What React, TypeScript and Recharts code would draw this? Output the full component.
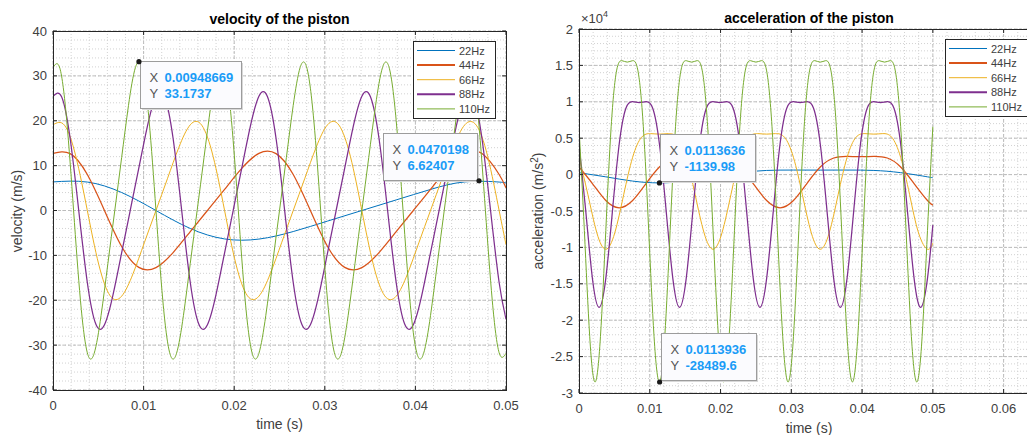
import { LineChart, Line, XAxis, YAxis, CartesianGrid, ReferenceDot } from "recharts"

const FONT = '"Liberation Sans", Arial, Helvetica, sans-serif'
const AXIS = "#262626"
const TEXT = "#404040"

const series = ["22Hz", "44Hz", "66Hz", "88Hz", "110Hz"]
const freqs = [22, 44, 66, 88, 110]
const colors = ["#0072BD", "#D95319", "#EDB120", "#7E2F8E", "#77AC30"]
const widths = [1, 1.25, 1, 1.25, 1]
const samplesPerCycle = 12
const endTime = 0.05

// velocity (m/s), one sample every 1/12 of a crank turn
const vel22 = [6.37, 6.34, 4.01, 0, -4.01, -6.34, -6.37, -4.69, -2.36, 0, 2.36, 4.69, 6.37, 6.34]
const vel44 = [
  12.73, 12.68, 8.02, 0, -8.02, -12.68, -12.73, -9.37, -4.71, 0, 4.71, 9.37,
  12.73, 12.68, 8.02, 0, -8.02, -12.68, -12.73, -9.37, -4.71, 0, 4.71, 9.37,
  12.73, 12.68, 8.02,
]
const vel66 = [
  19.1, 19.02, 12.03, 0, -12.03, -19.02, -19.1, -14.06, -7.07, 0, 7.07, 14.06,
  19.1, 19.02, 12.03, 0, -12.03, -19.02, -19.1, -14.06, -7.07, 0, 7.07, 14.06,
  19.1, 19.02, 12.03, 0, -12.03, -19.02, -19.1, -14.06, -7.07, 0, 7.07, 14.06,
  19.1, 19.02, 12.03, 0,
]
const vel88 = [
  25.46, 25.36, 16.04, 0, -16.04, -25.36, -25.46, -18.74, -9.42, 0, 9.42, 18.74,
  25.46, 25.36, 16.04, 0, -16.04, -25.36, -25.46, -18.74, -9.42, 0, 9.42, 18.74,
  25.46, 25.36, 16.04, 0, -16.04, -25.36, -25.46, -18.74, -9.42, 0, 9.42, 18.74,
  25.46, 25.36, 16.04, 0, -16.04, -25.36, -25.46, -18.74, -9.42, 0, 9.42, 18.74,
  25.46, 25.36, 16.04, 0, -16.04,
]
const vel110 = [
  31.83, 31.7, 20.05, 0, -20.05, -31.7, -31.83, -23.43, -11.78, 0, 11.78, 23.43,
  31.83, 31.7, 20.05, 0, -20.05, -31.7, -31.83, -23.43, -11.78, 0, 11.78, 23.43,
  31.83, 31.7, 20.05, 0, -20.05, -31.7, -31.83, -23.43, -11.78, 0, 11.78, 23.43,
  31.83, 31.7, 20.05, 0, -20.05, -31.7, -31.83, -23.43, -11.78, 0, 11.78, 23.43,
  31.83, 31.7, 20.05, 0, -20.05, -31.7, -31.83, -23.43, -11.78, 0, 11.78, 23.43,
  31.83, 31.7, 20.05, 0, -20.05, -31.7, -31.83,
]
const velEnd = [6.06, 5.06, -7.59, -24.23, null]

// acceleration (m/s^2)
const acc22 = [263, -307, -891, -1140, -891, -307, 263, 570, 625, 618, 625, 570, 263, -307]
const acc44 = [
  1052, -1227, -3562, -4558, -3562, -1227, 1052, 2279, 2500, 2470, 2500, 2279,
  1052, -1227, -3562, -4558, -3562, -1227, 1052, 2279, 2500, 2470, 2500, 2279,
  1052, -1227, -3562,
]
const acc66 = [
  2367, -2761, -8015, -10256, -8015, -2761, 2367, 5128, 5630, 5560, 5630, 5128,
  2367, -2761, -8015, -10256, -8015, -2761, 2367, 5128, 5630, 5560, 5630, 5128,
  2367, -2761, -8015, -10256, -8015, -2761, 2367, 5128, 5630, 5560, 5630, 5128,
  2367, -2761, -8015, -10256,
]
const acc88 = [
  4208, -4909, -14250, -18234, -14250, -4909, 4208, 9117, 10010, 9880, 10010, 9117,
  4208, -4909, -14250, -18234, -14250, -4909, 4208, 9117, 10010, 9880, 10010, 9117,
  4208, -4909, -14250, -18234, -14250, -4909, 4208, 9117, 10010, 9880, 10010, 9117,
  4208, -4909, -14250, -18234, -14250, -4909, 4208, 9117, 10010, 9880, 10010, 9117,
  4208, -4909, -14250, -18234, -14250,
]
const acc110 = [
  6575, -7670, -22266, -28490, -22266, -7670, 6575, 14245, 15650, 15450, 15650, 14245,
  6575, -7670, -22266, -28490, -22266, -7670, 6575, 14245, 15650, 15450, 15650, 14245,
  6575, -7670, -22266, -28490, -22266, -7670, 6575, 14245, 15650, 15450, 15650, 14245,
  6575, -7670, -22266, -28490, -22266, -7670, 6575, 14245, 15650, 15450, 15650, 14245,
  6575, -7670, -22266, -28490, -22266, -7670, 6575, 14245, 15650, 15450, 15650, 14245,
  6575, -7670, -22266, -28490, -22266, -7670, 6575,
]
const accEnd = [-434, -4186, -9419, -6943, null]

const velTicksX = [0, 0.01, 0.02, 0.03, 0.04, 0.05]
const velTicksY = [-40, -30, -20, -10, 0, 10, 20, 30, 40]
const accTicksX = [0, 0.01, 0.02, 0.03, 0.04, 0.05, 0.06]
const accTicksY = [-30000, -25000, -20000, -15000, -10000, -5000, 0, 5000, 10000, 15000, 20000]

// data tips
const velTipX = [0.00948669, 0.0470198]
const velTipY = [33.1737, 6.62407]
const accTipX = [0.0113636, 0.0113936]
const accTipY = [-1139.98, -28489.6]

function toPoints(vals: number[], f: number, end: number | null) {
  const pts = vals.map((v, k) => ({ t: k / (samplesPerCycle * f), v }))
  if (end != null) pts.push({ t: endTime, v: end })
  return pts
}

const velLines = [vel22, vel44, vel66, vel88, vel110].map((v, i) => toPoints(v, freqs[i], velEnd[i]))
const accLines = [acc22, acc44, acc66, acc88, acc110].map((v, i) => toPoints(v, freqs[i], accEnd[i]))

function range(a: number, b: number, step: number) {
  const out: number[] = []
  const n = Math.round((b - a) / step)
  for (let i = 0; i <= n; i++) out.push(+(a + i * step).toFixed(6))
  return out
}

type Box = { left: number; width: number; l: number; r: number; t: number; b: number }

const velBox: Box = { left: 0, width: 520, l: 53, r: 506, t: 31, b: 390 }
const accBox: Box = { left: 520, width: 540, l: 579, r: 1039, t: 29, b: 393 }

function Tip({ cx, cy, dx, dy, w, xs, ys }: any) {
  const x0 = Math.round(cx + dx) + 0.5
  const y0 = Math.round(cy + dy) + 0.5
  return (
    <g fontFamily={FONT} fontSize={13}>
      <rect x={x0 + 1.5} y={y0 + 1.5} width={w} height={47} fill="#d8d8d8" />
      <rect x={x0} y={y0} width={w} height={47} fill="#fbfbfe" stroke="#9c9c9c" />
      <text x={x0 + 9} y={y0 + 20} fill="#555">X</text>
      <text x={x0 + 24} y={y0 + 20} fill="#1a9cf7" fontWeight="bold">{xs}</text>
      <text x={x0 + 9} y={y0 + 36} fill="#555">Y</text>
      <text x={x0 + 24} y={y0 + 36} fill="#1a9cf7" fontWeight="bold">{ys}</text>
      <circle cx={cx} cy={cy} r={2.6} fill="#1a1a1a" />
    </g>
  )
}

function Panel({ box, xDomain, yDomain, xTicks, yTicks, xMinor, yMinor, fmtY, lines, tipX, tipY, tipPos }: any) {
  const l = box.l - box.left
  const r = box.r - box.left
  const t = box.t
  const b = box.b
  const xTick = (p: any) => (
    <g>
      <line x1={p.x} x2={p.x} y1={b} y2={b - 4} stroke={AXIS} />
      <line x1={p.x} x2={p.x} y1={t} y2={t + 4} stroke={AXIS} />
      <text x={p.x} y={b + 20} textAnchor="middle" fontFamily={FONT} fontSize={13} fill={TEXT}>
        {String(p.payload.value)}
      </text>
    </g>
  )
  const yTick = (p: any) => (
    <g>
      <line x1={l} x2={l + 4} y1={p.y} y2={p.y} stroke={AXIS} />
      <line x1={r} x2={r - 4} y1={p.y} y2={p.y} stroke={AXIS} />
      <text x={l - 6} y={p.y + 4.5} textAnchor="end" fontFamily={FONT} fontSize={13} fill={TEXT}>
        {fmtY(p.payload.value)}
      </text>
    </g>
  )
  return (
    <div style={{ position: "absolute", left: box.left, top: 0 }}>
      <LineChart
        width={box.width}
        height={435}
        margin={{ top: t, right: box.width - r, bottom: 435 - b - 30, left: l - 40 }}
      >
        <CartesianGrid verticalValues={xMinor} horizontalValues={yMinor} stroke="#d2d2d2" strokeDasharray="1 2" />
        <CartesianGrid verticalValues={xTicks} horizontalValues={yTicks} stroke="#bcbcbc" strokeDasharray="3 2" />
        <XAxis
          type="number"
          dataKey="t"
          domain={xDomain}
          ticks={xTicks}
          interval={0}
          allowDataOverflow
          axisLine={false}
          tickLine={false}
          height={30}
          tick={xTick}
        />
        <YAxis
          type="number"
          domain={yDomain}
          ticks={yTicks}
          interval={0}
          allowDataOverflow
          axisLine={false}
          tickLine={false}
          width={40}
          tick={yTick}
        />
        {lines.map((pts: any, i: number) => (
          <Line
            key={series[i]}
            data={pts}
            dataKey="v"
            name={series[i]}
            type="natural"
            stroke={colors[i]}
            strokeWidth={widths[i]}
            dot={false}
            activeDot={false}
            isAnimationActive={false}
          />
        ))}
        {tipX.map((x: number, i: number) => (
          <ReferenceDot
            key={"tip" + i}
            x={x}
            y={tipY[i]}
            r={3}
            shape={(p: any) => (
              <Tip cx={p.cx} cy={p.cy} dx={tipPos[i].dx} dy={tipPos[i].dy} w={tipPos[i].w} xs={String(x)} ys={String(tipY[i])} />
            )}
          />
        ))}
      </LineChart>
    </div>
  )
}

function Legend({ x, y }: { x: number; y: number }) {
  return (
    <g fontFamily={FONT} fontSize={11}>
      <rect x={x + 0.5} y={y + 0.5} width={82} height={77} fill="#fff" stroke={AXIS} />
      {series.map((s, i) => {
        const ry = y + 9.5 + i * 14.6
        return (
          <g key={s}>
            <line x1={x + 4} x2={x + 42} y1={ry} y2={ry} stroke={colors[i]} strokeWidth={widths[i] === 1 ? 1 : 2} />
            <text x={x + 46} y={ry + 4} fill={TEXT}>{s}</text>
          </g>
        )
      })}
    </g>
  )
}

export default function App() {
  return (
    <div
      style={{
        position: "absolute",
        left: 0,
        top: 0,
        width: 1027,
        height: 435,
        overflow: "hidden",
        background: "#fff",
        fontFamily: FONT,
      }}
    >
      <Panel
        box={velBox}
        xDomain={[0, 0.05]}
        yDomain={[-40, 40]}
        xTicks={velTicksX}
        yTicks={velTicksY}
        xMinor={range(0, 0.05, 0.002)}
        yMinor={range(-40, 40, 2)}
        fmtY={(v: number) => String(v)}
        lines={velLines}
        tipX={velTipX}
        tipY={velTipY}
        tipPos={[
          { dx: 1, dy: -1, w: 101 },
          { dx: -96, dy: -48, w: 94 },
        ]}
      />
      <Panel
        box={accBox}
        xDomain={[0, 0.065]}
        yDomain={[-30000, 20000]}
        xTicks={accTicksX}
        yTicks={accTicksY}
        xMinor={range(0, 0.064, 0.002)}
        yMinor={range(-30000, 20000, 1000)}
        fmtY={(v: number) => String(v / 10000)}
        lines={accLines}
        tipX={accTipX}
        tipY={accTipY}
        tipPos={[
          { dx: 1, dy: -49, w: 95 },
          { dx: 1, dy: -49, w: 95 },
        ]}
      />
      <svg width={1027} height={435} style={{ position: "absolute", left: 0, top: 0, pointerEvents: "none" }}>
        <rect x={velBox.l + 0.5} y={velBox.t + 0.5} width={velBox.r - velBox.l} height={velBox.b - velBox.t} fill="none" stroke={AXIS} />
        <rect x={accBox.l + 0.5} y={accBox.t + 0.5} width={accBox.r - accBox.l} height={accBox.b - accBox.t} fill="none" stroke={AXIS} />

        <text x={(velBox.l + velBox.r) / 2} y={24} textAnchor="middle" fontSize={14} fontWeight="bold" fill="#000">
          velocity of the piston
        </text>
        <text x={(accBox.l + accBox.r) / 2} y={23} textAnchor="middle" fontSize={14} fontWeight="bold" fill="#000">
          acceleration of the piston
        </text>

        <text x={(velBox.l + velBox.r) / 2} y={429} textAnchor="middle" fontSize={14} fill={TEXT}>time (s)</text>
        <text x={(accBox.l + accBox.r) / 2} y={433} textAnchor="middle" fontSize={14} fill={TEXT}>time (s)</text>

        <text x={22} y={211} transform="rotate(-90 22 211)" textAnchor="middle" fontSize={14} fill={TEXT}>
          velocity (m/s)
        </text>
        <text x={543} y={211} transform="rotate(-90 543 211)" textAnchor="middle" fontSize={14} fill={TEXT}>
          acceleration  (m/s<tspan dy={-5} fontSize={10}>2</tspan><tspan dy={5}>)</tspan>
        </text>

        <text x={581} y={23} fontSize={13} fill={TEXT}>
          ×10<tspan dy={-6} fontSize={9}>4</tspan>
        </text>

        <Legend x={413} y={41} />
        <Legend x={945} y={39} />
      </svg>
    </div>
  )
}
